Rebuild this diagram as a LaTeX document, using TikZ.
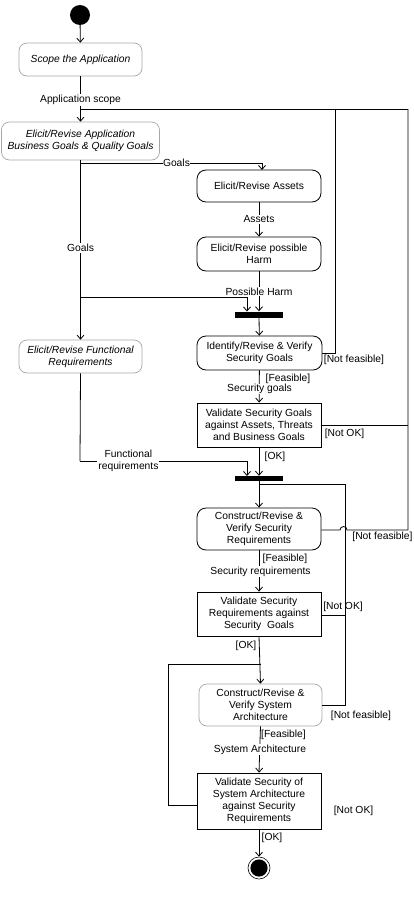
\documentclass[tikz,border=0pt]{standalone}
\usepackage{fontspec}
\setmainfont{Liberation Sans}
\usetikzlibrary{arrows.meta}
\begin{document}
\begin{tikzpicture}[x=1pt,y=-1pt,
  every node/.style={font=\fontsize{10.3}{12.2}\selectfont, inner sep=0pt, align=center},
  gbox/.style={draw=black!35, line width=0.7pt, rounded corners=8pt, font=\fontsize{10.3}{12.2}\selectfont\itshape},
  rbox/.style={draw=black, line width=0.8pt, rounded corners=9pt},
  sbox/.style={draw=black, line width=0.8pt},
  barbox/.style={fill=black, draw=none},
  conn/.style={line width=0.8pt, -{Straight Barb[length=4pt,width=7pt]}},
  ln/.style={line width=0.8pt},
  lbl/.style={fill=white, inner sep=1pt},
  glbl/.style={inner sep=0pt}
]
\useasboundingbox (0,0) rectangle (414,897);

% nodes
\node[circle, fill=black, minimum size=20pt] (start) at (80,15) {};
\node[gbox, minimum width=123pt, minimum height=33pt] (scope) at (80.5,59.5) {Scope the Application};
\node[gbox, minimum width=158pt, minimum height=38pt] (elicit) at (80.5,141) {Elicit/Revise Application\\Business Goals \& Quality Goals};
\node[rbox, minimum width=124pt, minimum height=32pt] (assets) at (259,186) {Elicit/Revise Assets};
\node[rbox, minimum width=124pt, minimum height=34pt] (harm) at (259,254) {Elicit/Revise possible\\Harm};
\node[barbox, minimum width=48pt, minimum height=6pt] (bara) at (259,314.5) {};
\node[rbox, minimum width=125pt, minimum height=34pt] (ident) at (259.5,353) {Identify/Revise \& Verify\\Security Goals};
\node[gbox, minimum width=123pt, minimum height=33pt] (func) at (80.5,356.5) {Elicit/Revise Functional\\Requirements};
\node[sbox, minimum width=124pt, minimum height=44pt] (valg) at (259,425) {Validate Security Goals\\against Assets, Threats\\and Business Goals};
\node[barbox, minimum width=48pt, minimum height=5pt] (barb) at (259,478.5) {};
\node[rbox, minimum width=124pt, minimum height=42pt] (consr) at (259,529) {Construct/Revise \&\\Verify Security\\Requirements};
\node[sbox, minimum width=124pt, minimum height=44pt] (valr) at (259,614) {Validate Security\\Requirements against\\Security\ \ Goals};
\node[gbox, font=\fontsize{10.3}{12.2}\selectfont, minimum width=123pt, minimum height=42pt] (consa) at (260.5,705) {Construct/Revise \&\\Verify System\\Architecture};
\node[sbox, minimum width=124pt, minimum height=56pt] (vala) at (259,801) {Validate Security of\\System Architecture\\against Security\\Requirements};
\node[circle, draw=black, line width=0.6pt, fill=white, minimum size=22pt] (final) at (259,868) {};
\fill[black] (final.center) circle (8.6pt);

% coordinates
\coordinate (j0) at (80,109);
\coordinate (j1) at (80,163);
\coordinate (j2) at (80,297);
\coordinate (j3) at (80,461);
\coordinate (k1) at (335,353);
\coordinate (k2) at (408,109);
\coordinate (k3) at (408,425);
\coordinate (k4) at (408,530);
\coordinate (m0) at (259,484);
\coordinate (m1) at (345,484);
\coordinate (m2) at (345,705);
\coordinate (m3) at (345,615);
\coordinate (n0) at (261,664);
\coordinate (n1) at (168,664);
\coordinate (n2) at (168,805);

% connectors
\draw[conn] (start) -- (scope);
\draw[conn] (scope.south) -- node[lbl, pos=0.52]{Application scope} (elicit.north);
\draw[ln] (ident.east |- k1) -- (k1) |- (j0);
\draw[ln] (k2) -- (j0);
\draw[ln] (valg.east |- k3) -- (k3);
\draw[ln] (consr.east |- k4) -- (340,530) arc[start angle=180, end angle=0, radius=3.5pt] -- (k4) -- (k2);
\draw[conn] (elicit.south) -- node[lbl, pos=0.49]{Goals} (func.north);
\draw[ln] (j1) -- node[lbl, pos=0.53, inner sep=0.5pt]{Goals} (262,163);
\draw[conn] (262,163) -- (262,170);
\draw[conn] (assets) -- node[lbl]{Assets} (harm);
\draw[conn] (harm.south) -- node[lbl, pos=0.5]{Possible Harm} (bara.north);
\draw[conn] (j2) -| (247,311.5);
\draw[conn] (bara) -- (ident);
\draw[conn] (ident) -- (valg);
\node[glbl] (lfeas1) at (288,379) {[Feasible]};
\node[lbl, inner sep=0.3pt] (lsg) at (259.5,389) {Security goals};
\node[glbl] (lnf1) at (354,360) {[Not feasible]};
\draw[conn] (valg) -- (barb.north);
\node[glbl] (lok1) at (275,457) {[OK]};
\node[glbl] (lnok1) at (344.5,434) {[Not OK]};
\draw[ln] (func.south) -- (j3);
\draw[conn] (j3) -- node[lbl, pos=0.29]{Functional\\requirements} (247,461) -- (247,476);
\draw[conn] (barb) -- (consr);
\draw[ln] (consa.east |- m2) -- (m2) -- (m1) -- (m0);
\draw[ln] (valr.east |- m3) -- (m3);
\node[glbl] (lnf2) at (382.5,537) {[Not feasible]};
\draw[conn] (consr) -- (valr);
\node[glbl] (lfeas2) at (285,559) {[Feasible]};
\node[lbl, inner sep=0.3pt] (lsr) at (260.5,571.5) {Security requirements};
\node[glbl] (lnok2) at (343,607) {[Not OK]};
\draw[conn] (valr.south) -- (consa.north);
\node[glbl] (lok2) at (246,646) {[OK]};
\draw[ln] (vala.west |- n2) -- (n2) -- (n1) -- (n0);
\draw[conn] (consa.south) -- (vala.north);
\node[glbl] (lfeas3) at (283.5,735) {[Feasible]};
\node[lbl, inner sep=0.3pt] (lsa) at (260,749.5) {System Architecture};
\node[glbl] (lnf3) at (361,716) {[Not feasible]};
\node[glbl] (lnok3) at (353.5,811) {[Not OK]};
\draw[conn] (vala) -- (final);
\node[glbl] (lok3) at (272,838) {[OK]};
\end{tikzpicture}
\end{document}
